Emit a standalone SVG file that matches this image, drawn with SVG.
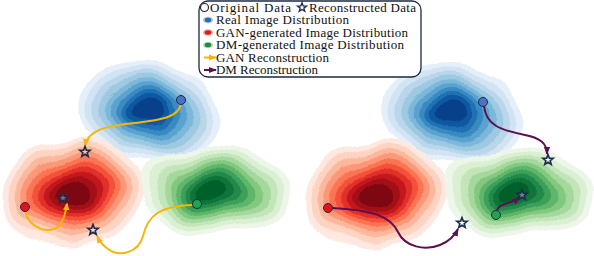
<svg xmlns="http://www.w3.org/2000/svg" xmlns:xlink="http://www.w3.org/1999/xlink" width="594" height="256" viewBox="0 0 594 256">
<style>
.t{font-family:"Liberation Serif","Times New Roman",serif;font-size:13px;fill:#111}
.b0{fill:#e4eff9}.b1{fill:#d2e3f3}.b2{fill:#bad6eb}.b3{fill:#9dc9e1}.b4{fill:#7db8da}.b5{fill:#5aa2cf}.b6{fill:#3a8ac2}.b7{fill:#2070b4}.b8{fill:#0d58a1}.b9{fill:#08408a}
.r0{fill:#fee8e0}.r1{fill:#fdd3c2}.r2{fill:#fcb89d}.r3{fill:#fc9878}.r4{fill:#fb7454}.r5{fill:#f4503a}.r6{fill:#e0302a}.r7{fill:#c3171d}.r8{fill:#a20f17}.r9{fill:#7f0711}
.g0{fill:#edf7e9}.g1{fill:#dbf0d3}.g2{fill:#c2e6ba}.g3{fill:#a4d89d}.g4{fill:#82c87e}.g5{fill:#5eb66c}.g6{fill:#3ca059}.g7{fill:#23894a}.g8{fill:#0f7439}.g9{fill:#00602a}
.gan{fill:none;stroke:#f4b60b;stroke-width:2;marker-end:url(#ay)}
.dm{fill:none;stroke:#5d0f4f;stroke-width:2;marker-end:url(#ap)}
.star{fill:#ffffff;fill-opacity:0.35;stroke:#1d2b4c;stroke-width:1.6;stroke-linejoin:miter}
.dot{stroke:#1e2a4a;stroke-width:1}
</style>
<defs>
<filter id="wob" x="-20%" y="-20%" width="140%" height="140%" color-interpolation-filters="sRGB">
<feTurbulence type="fractalNoise" baseFrequency="0.024" numOctaves="1" seed="7" result="n"/>
<feDisplacementMap in="SourceGraphic" in2="n" scale="22" xChannelSelector="R" yChannelSelector="G"/>
</filter>
<marker id="ay" viewBox="0 0 10 10" refX="9" refY="5" markerWidth="8" markerHeight="8" markerUnits="userSpaceOnUse" orient="auto"><path d="M0,1 L10,5 L0,9 Z" fill="#f4b60b"/></marker>
<marker id="ap" viewBox="0 0 10 10" refX="9" refY="5" markerWidth="8" markerHeight="8" markerUnits="userSpaceOnUse" orient="auto"><path d="M0,1 L10,5 L0,9 Z" fill="#5d0f4f"/></marker>
<path id="star" d="M0,-5.5 L1.35,-1.86 5.23,-1.7 2.19,0.71 3.23,4.45 0,2.3 -3.23,4.45 -2.19,0.71 -5.23,-1.7 -1.35,-1.86 Z"/>
<g id="blobBlue" filter="url(#wob)">
<g transform="translate(150,112) rotate(8)">
<ellipse class="b0" rx="72" ry="49"/><ellipse class="b1" rx="65" ry="44"/><ellipse class="b2" rx="58" ry="39"/><ellipse class="b3" rx="51" ry="35"/><ellipse class="b4" rx="44.6" ry="30.4"/><ellipse class="b5" cx="-0.5" rx="39" ry="26.5"/><ellipse class="b6" cx="-1" rx="33" ry="22.5"/><ellipse class="b7" cx="-1.5" rx="27.4" ry="18.6"/><ellipse class="b8" cx="-2" rx="21.6" ry="14.7"/><ellipse class="b9" cx="-2" rx="15.5" ry="10"/>
</g></g>
<g id="blobRed" filter="url(#wob)">
<g transform="translate(73,193) rotate(-10)">
<ellipse class="r0" rx="70" ry="54"/><ellipse class="r1" rx="63" ry="49"/><ellipse class="r2" rx="56" ry="44"/><ellipse class="r3" rx="50" ry="39.5"/><ellipse class="r4" rx="44" ry="35"/><ellipse class="r5" rx="38.5" ry="31"/><ellipse class="r6" rx="33" ry="27"/><ellipse class="r7" rx="27.5" ry="23"/><ellipse class="r8" rx="22" ry="19"/><ellipse class="r9" rx="16" ry="14"/>
</g></g>
<g id="blobGreen" filter="url(#wob)">
<g transform="translate(214,191) rotate(4)">
<ellipse class="g0" rx="75" ry="45"/><ellipse class="g1" rx="67.5" ry="40.5"/><ellipse class="g2" rx="60" ry="36"/><ellipse class="g3" rx="53" ry="32"/><ellipse class="g4" cx="-0.5" rx="46.5" ry="28"/><ellipse class="g5" cx="-1" rx="40.5" ry="24.3"/><ellipse class="g6" cx="-1.5" rx="34.5" ry="20.7"/><ellipse class="g7" cx="-2" rx="28.5" ry="17.1"/><ellipse class="g8" cx="-2.5" rx="22.5" ry="13.5"/><ellipse class="g9" cx="-3" rx="15.5" ry="9.5"/>
</g></g>
</defs>

<g id="distributions">
<use id="blue-left" xlink:href="#blobBlue" href="#blobBlue"/>
<use id="red-left" xlink:href="#blobRed" href="#blobRed"/>
<use id="green-left" xlink:href="#blobGreen" href="#blobGreen"/>
<use id="blue-right" xlink:href="#blobBlue" href="#blobBlue" transform="translate(303,2)"/>
<use id="red-right" xlink:href="#blobRed" href="#blobRed" transform="translate(303,2)"/>
<use id="green-right" xlink:href="#blobGreen" href="#blobGreen" transform="translate(303,2)"/>
</g>

<g id="connectors">
<path class="gan" d="M181,104 C178,118 160,120 135,123 C105,126 88,130 85,146"/>
<path class="gan" d="M25,210 C28,228 50,236 60,225 C64,219 66,212 67,203"/>
<path class="gan" d="M193,205 C160,206 148,215 143,236 C139,252 120,258 108,249 C102,245 99,240 97,236"/>
<path class="dm" d="M484,106 C486,125 500,130 525,135 C540,138 547,143 547,154"/>
<path class="dm" d="M332,208 C370,210 390,215 398,232 C405,247 425,251 440,245 C450,241 455,235 458,229"/>
<path class="dm" d="M497,211 C498,205 505,204 511,202 C515,201 517,199 519,197"/>
</g>

<g id="node-blue-orig-left"><circle class="dot" cx="181" cy="100" r="4.5" fill="#4a72c0"/></g>
<g id="node-red-orig-left"><circle class="dot" cx="25" cy="207" r="4.5" fill="#e8111a"/></g>
<g id="node-green-orig-left"><circle class="dot" cx="197" cy="204" r="4.5" fill="#20a54c"/></g>
<g id="node-star-blue-left"><use href="#star" xlink:href="#star" class="star" x="85" y="152"/></g>
<g id="node-star-red-left"><use href="#star" xlink:href="#star" class="star" x="63" y="198"/></g>
<g id="node-star-green-left"><use href="#star" xlink:href="#star" class="star" x="93" y="230"/></g>

<g id="node-blue-orig-right"><circle class="dot" cx="483" cy="102" r="4.5" fill="#4a72c0"/></g>
<g id="node-red-orig-right"><circle class="dot" cx="328" cy="208" r="4.5" fill="#e8111a"/></g>
<g id="node-green-orig-right"><circle class="dot" cx="496" cy="215" r="4.5" fill="#20a54c"/></g>
<g id="node-star-blue-right"><use href="#star" xlink:href="#star" class="star" x="548" y="160"/></g>
<g id="node-star-green-right"><use href="#star" xlink:href="#star" class="star" x="522" y="195"/></g>
<g id="node-star-red-right"><use href="#star" xlink:href="#star" class="star" x="462" y="223"/></g>

<g id="legend">
<rect x="199" y="1" width="222" height="76" rx="9" fill="#ffffff" fill-opacity="0.9" stroke="#1c2940" stroke-width="1.3"/>
<circle cx="204.5" cy="7.5" r="4" fill="#ffffff" stroke="#1c2940" stroke-width="1.2"/>
<text class="t" x="210" y="11.5" textLength="81">Original Data</text>
<use href="#star" xlink:href="#star" class="star" transform="translate(302,7.5) scale(0.85)"/>
<text class="t" x="309" y="11.5" textLength="107">Reconstructed Data</text>
<ellipse cx="208" cy="20" rx="5" ry="3.2" fill="#3b78c4" opacity="0.45"/><ellipse cx="208" cy="20" rx="3.2" ry="2.2" fill="#2a6ab8"/>
<text class="t" x="216" y="24" textLength="133">Real Image Distribution</text>
<ellipse cx="208" cy="32.5" rx="5" ry="3.2" fill="#e83a2c" opacity="0.45"/><ellipse cx="208" cy="32.5" rx="3.2" ry="2.2" fill="#d81f1f"/>
<text class="t" x="216" y="36.5" textLength="192">GAN-generated Image Distribution</text>
<ellipse cx="208" cy="45" rx="5" ry="3.2" fill="#3da55a" opacity="0.45"/><ellipse cx="208" cy="45" rx="3.2" ry="2.2" fill="#208a45"/>
<text class="t" x="216" y="49" textLength="188">DM-generated Image Distribution</text>
<line class="gan" x1="204" y1="57.5" x2="216" y2="57.5"/>
<text class="t" x="216" y="61.5" textLength="113">GAN Reconstruction</text>
<line class="dm" x1="204" y1="70" x2="216" y2="70"/>
<text class="t" x="216" y="74" textLength="102">DM Reconstruction</text>
</g>
</svg>
